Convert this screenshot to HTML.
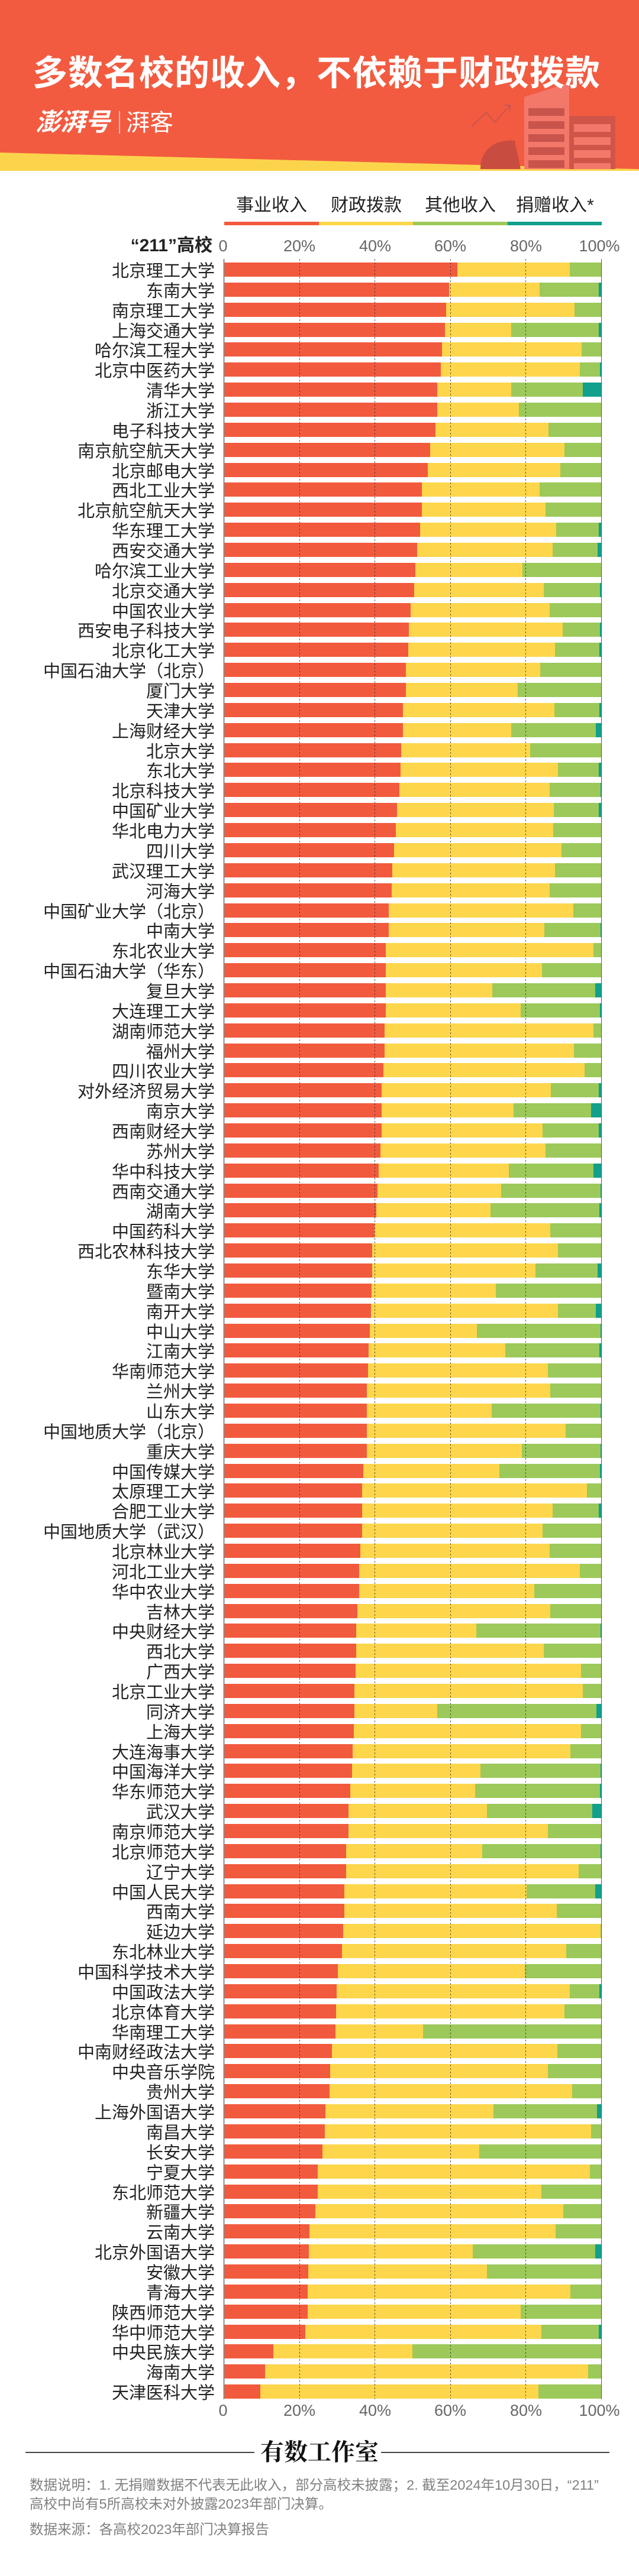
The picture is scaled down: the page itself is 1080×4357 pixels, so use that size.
<!DOCTYPE html>
<html><head><meta charset="utf-8">
<style>
*{margin:0;padding:0;box-sizing:border-box}
html,body{width:1080px;height:4357px;background:#fff;overflow:hidden}
body{position:relative;font-family:"Liberation Sans","Noto Sans CJK SC",sans-serif;color:#222}
.abs{position:absolute}
#title{left:55px;top:76px;font-size:59px;font-weight:bold;color:#fff;white-space:nowrap;letter-spacing:1px}
.lg{top:328px;font-size:30px;color:#222;width:160px;text-align:center;line-height:40px}
.lb{top:375px;height:6px}
.ax{font-size:27px;color:#666;width:80px;text-align:center;line-height:30px}
#names{left:0;top:444px;width:363px;text-align:right}
#names div{height:24px;margin-bottom:9.87px;line-height:24px;font-size:29px;white-space:nowrap;position:relative;top:3px}
#bars{left:379px;top:444px;width:637px}
#bars div{height:24px;margin-bottom:9.87px;background:#10a08b;display:flex}
#bars i{background:#f25a3e;display:block;height:24px}
#bars b{background:#fdd64b;display:block;height:24px}
#bars u{background:#9cc95a;display:block;height:24px}
.note{left:50px;font-size:23.5px;color:#808080;white-space:nowrap}
</style></head><body>
<svg class="abs" style="left:0;top:0" width="1080" height="290">
<rect x="0" y="0" width="1080" height="289" fill="#fcd44c"/>
<polygon points="0,0 1080,0 1080,286 0,258" fill="#f25b40"/>
<path d="M812,286 C812,250 840,235 870,238 L880,286 Z" fill="#c94c40"/>
<rect x="886" y="164" width="76" height="122" fill="#f4786a"/>
<polygon points="886,164 962,140 962,164" fill="#f4786a"/>
<rect x="893" y="183" width="61" height="13" fill="#c9544b"/>
<rect x="893" y="205" width="61" height="13" fill="#c9544b"/>
<rect x="893" y="227" width="61" height="13" fill="#c9544b"/>
<rect x="893" y="249" width="61" height="13" fill="#c9544b"/>
<rect x="893" y="271" width="61" height="13" fill="#c9544b"/>
<rect x="962" y="196" width="78" height="90" fill="#cf5549"/>
<rect x="970" y="210" width="62" height="13" fill="#f4786a"/>
<rect x="970" y="232" width="62" height="13" fill="#f4786a"/>
<rect x="970" y="254" width="62" height="13" fill="#f4786a"/>
<rect x="970" y="276" width="62" height="10" fill="#f4786a"/>
<polyline points="797,214 822,190 836,207 862,178" fill="none" stroke="#c9544b" stroke-width="2"/>
<polyline points="852,178 862,178 862,188" fill="none" stroke="#c9544b" stroke-width="2"/>
<line x1="202" y1="188" x2="202" y2="226" stroke="#fff" stroke-width="1.5" opacity="0.8"/>
</svg>
<div id="title" class="abs">多数名校的收入，不依赖于财政拨款</div>
<div class="abs" style="left:60px;top:182px;font-size:42px;line-height:50px;font-weight:bold;font-style:italic;color:#fff;white-space:nowrap">澎湃号</div>
<div class="abs" style="left:213px;top:184px;font-size:40px;line-height:48px;color:#fff;white-space:nowrap">湃客</div>

<div class="abs lg" style="left:379px">事业收入</div>
<div class="abs lg" style="left:539px">财政拨款</div>
<div class="abs lg" style="left:698px">其他收入</div>
<div class="abs lg" style="left:858px">捐赠收入*</div>
<div class="abs lb" style="left:379px;width:160px;background:#f25a3e"></div>
<div class="abs lb" style="left:539px;width:159px;background:#fdd64b"></div>
<div class="abs lb" style="left:698px;width:160px;background:#9cc95a"></div>
<div class="abs lb" style="left:858px;width:159px;background:#10a08b"></div>

<div class="abs" style="right:721px;top:398px;font-size:30px;font-weight:bold;line-height:36px;white-space:nowrap">“211”高校</div>
<div class="abs ax" style="left:337px;top:401px;">0</div>
<div class="abs ax" style="left:466px;top:401px;">20%</div>
<div class="abs ax" style="left:594px;top:401px;">40%</div>
<div class="abs ax" style="left:721px;top:401px;">60%</div>
<div class="abs ax" style="left:849px;top:401px;">80%</div>
<div class="abs ax" style="left:973px;top:401px;">100%</div>

<div id="names" class="abs">
<div>北京理工大学</div><div>东南大学</div><div>南京理工大学</div><div>上海交通大学</div><div>哈尔滨工程大学</div><div>北京中医药大学</div><div>清华大学</div><div>浙江大学</div><div>电子科技大学</div><div>南京航空航天大学</div>
<div>北京邮电大学</div><div>西北工业大学</div><div>北京航空航天大学</div><div>华东理工大学</div><div>西安交通大学</div><div>哈尔滨工业大学</div><div>北京交通大学</div><div>中国农业大学</div><div>西安电子科技大学</div><div>北京化工大学</div>
<div>中国石油大学（北京）</div><div>厦门大学</div><div>天津大学</div><div>上海财经大学</div><div>北京大学</div><div>东北大学</div><div>北京科技大学</div><div>中国矿业大学</div><div>华北电力大学</div><div>四川大学</div>
<div>武汉理工大学</div><div>河海大学</div><div>中国矿业大学（北京）</div><div>中南大学</div><div>东北农业大学</div><div>中国石油大学（华东）</div><div>复旦大学</div><div>大连理工大学</div><div>湖南师范大学</div><div>福州大学</div>
<div>四川农业大学</div><div>对外经济贸易大学</div><div>南京大学</div><div>西南财经大学</div><div>苏州大学</div><div>华中科技大学</div><div>西南交通大学</div><div>湖南大学</div><div>中国药科大学</div><div>西北农林科技大学</div>
<div>东华大学</div><div>暨南大学</div><div>南开大学</div><div>中山大学</div><div>江南大学</div><div>华南师范大学</div><div>兰州大学</div><div>山东大学</div><div>中国地质大学（北京）</div><div>重庆大学</div>
<div>中国传媒大学</div><div>太原理工大学</div><div>合肥工业大学</div><div>中国地质大学（武汉）</div><div>北京林业大学</div><div>河北工业大学</div><div>华中农业大学</div><div>吉林大学</div><div>中央财经大学</div><div>西北大学</div>
<div>广西大学</div><div>北京工业大学</div><div>同济大学</div><div>上海大学</div><div>大连海事大学</div><div>中国海洋大学</div><div>华东师范大学</div><div>武汉大学</div><div>南京师范大学</div><div>北京师范大学</div>
<div>辽宁大学</div><div>中国人民大学</div><div>西南大学</div><div>延边大学</div><div>东北林业大学</div><div>中国科学技术大学</div><div>中国政法大学</div><div>北京体育大学</div><div>华南理工大学</div><div>中南财经政法大学</div>
<div>中央音乐学院</div><div>贵州大学</div><div>上海外国语大学</div><div>南昌大学</div><div>长安大学</div><div>宁夏大学</div><div>东北师范大学</div><div>新疆大学</div><div>云南大学</div><div>北京外国语大学</div>
<div>安徽大学</div><div>青海大学</div><div>陕西师范大学</div><div>华中师范大学</div><div>中央民族大学</div><div>海南大学</div><div>天津医科大学</div>
</div>

<div id="bars" class="abs">
<div><i style="width:61.8%"></i><b style="width:29.9%"></b><u style="width:8.3%"></u></div>
<div><i style="width:59.7%"></i><b style="width:24.0%"></b><u style="width:15.7%"></u></div>
<div><i style="width:58.8%"></i><b style="width:34.1%"></b><u style="width:7.1%"></u></div>
<div><i style="width:58.6%"></i><b style="width:17.6%"></b><u style="width:23.1%"></u></div>
<div><i style="width:57.8%"></i><b style="width:37.1%"></b><u style="width:5.1%"></u></div>
<div><i style="width:57.4%"></i><b style="width:37.0%"></b><u style="width:5.3%"></u></div>
<div><i style="width:56.5%"></i><b style="width:19.6%"></b><u style="width:19.0%"></u></div>
<div><i style="width:56.5%"></i><b style="width:21.7%"></b><u style="width:21.8%"></u></div>
<div><i style="width:56.0%"></i><b style="width:30.1%"></b><u style="width:13.9%"></u></div>
<div><i style="width:54.6%"></i><b style="width:35.7%"></b><u style="width:9.7%"></u></div>
<div><i style="width:54.0%"></i><b style="width:35.2%"></b><u style="width:10.8%"></u></div>
<div><i style="width:52.5%"></i><b style="width:31.2%"></b><u style="width:16.3%"></u></div>
<div><i style="width:52.4%"></i><b style="width:32.9%"></b><u style="width:14.7%"></u></div>
<div><i style="width:52.0%"></i><b style="width:36.0%"></b><u style="width:11.4%"></u></div>
<div><i style="width:51.1%"></i><b style="width:36.0%"></b><u style="width:11.9%"></u></div>
<div><i style="width:50.7%"></i><b style="width:28.5%"></b><u style="width:20.8%"></u></div>
<div><i style="width:50.4%"></i><b style="width:34.4%"></b><u style="width:14.9%"></u></div>
<div><i style="width:49.4%"></i><b style="width:36.9%"></b><u style="width:13.7%"></u></div>
<div><i style="width:49.0%"></i><b style="width:40.8%"></b><u style="width:9.9%"></u></div>
<div><i style="width:48.8%"></i><b style="width:38.9%"></b><u style="width:11.8%"></u></div>
<div><i style="width:48.2%"></i><b style="width:35.7%"></b><u style="width:16.1%"></u></div>
<div><i style="width:48.2%"></i><b style="width:29.6%"></b><u style="width:22.2%"></u></div>
<div><i style="width:47.4%"></i><b style="width:40.2%"></b><u style="width:12.0%"></u></div>
<div><i style="width:47.4%"></i><b style="width:28.8%"></b><u style="width:22.4%"></u></div>
<div><i style="width:47.0%"></i><b style="width:34.1%"></b><u style="width:18.9%"></u></div>
<div><i style="width:46.8%"></i><b style="width:41.7%"></b><u style="width:10.8%"></u></div>
<div><i style="width:46.5%"></i><b style="width:39.9%"></b><u style="width:13.4%"></u></div>
<div><i style="width:45.9%"></i><b style="width:41.6%"></b><u style="width:11.9%"></u></div>
<div><i style="width:45.5%"></i><b style="width:41.8%"></b><u style="width:12.7%"></u></div>
<div><i style="width:45.0%"></i><b style="width:44.5%"></b><u style="width:10.5%"></u></div>
<div><i style="width:44.6%"></i><b style="width:43.1%"></b><u style="width:12.3%"></u></div>
<div><i style="width:44.4%"></i><b style="width:42.0%"></b><u style="width:13.6%"></u></div>
<div><i style="width:43.7%"></i><b style="width:49.0%"></b><u style="width:7.3%"></u></div>
<div><i style="width:43.7%"></i><b style="width:41.3%"></b><u style="width:14.8%"></u></div>
<div><i style="width:42.9%"></i><b style="width:55.1%"></b><u style="width:2.0%"></u></div>
<div><i style="width:42.9%"></i><b style="width:41.4%"></b><u style="width:15.7%"></u></div>
<div><i style="width:42.8%"></i><b style="width:28.3%"></b><u style="width:27.3%"></u></div>
<div><i style="width:42.8%"></i><b style="width:35.9%"></b><u style="width:21.0%"></u></div>
<div><i style="width:42.6%"></i><b style="width:55.3%"></b><u style="width:2.1%"></u></div>
<div><i style="width:42.6%"></i><b style="width:50.2%"></b><u style="width:7.2%"></u></div>
<div><i style="width:42.2%"></i><b style="width:53.4%"></b><u style="width:4.4%"></u></div>
<div><i style="width:41.8%"></i><b style="width:44.8%"></b><u style="width:12.8%"></u></div>
<div><i style="width:41.7%"></i><b style="width:35.0%"></b><u style="width:20.6%"></u></div>
<div><i style="width:41.7%"></i><b style="width:42.7%"></b><u style="width:15.0%"></u></div>
<div><i style="width:41.4%"></i><b style="width:43.8%"></b><u style="width:14.8%"></u></div>
<div><i style="width:40.9%"></i><b style="width:34.6%"></b><u style="width:22.5%"></u></div>
<div><i style="width:40.7%"></i><b style="width:32.8%"></b><u style="width:26.3%"></u></div>
<div><i style="width:40.3%"></i><b style="width:30.4%"></b><u style="width:28.9%"></u></div>
<div><i style="width:39.8%"></i><b style="width:46.7%"></b><u style="width:13.5%"></u></div>
<div><i style="width:39.3%"></i><b style="width:49.3%"></b><u style="width:11.4%"></u></div>
<div><i style="width:39.3%"></i><b style="width:43.3%"></b><u style="width:16.5%"></u></div>
<div><i style="width:39.1%"></i><b style="width:33.0%"></b><u style="width:27.9%"></u></div>
<div><i style="width:39.0%"></i><b style="width:49.6%"></b><u style="width:10.0%"></u></div>
<div><i style="width:38.6%"></i><b style="width:28.5%"></b><u style="width:32.7%"></u></div>
<div><i style="width:38.3%"></i><b style="width:36.2%"></b><u style="width:25.1%"></u></div>
<div><i style="width:38.2%"></i><b style="width:47.6%"></b><u style="width:14.2%"></u></div>
<div><i style="width:37.9%"></i><b style="width:48.6%"></b><u style="width:13.5%"></u></div>
<div><i style="width:37.9%"></i><b style="width:33.1%"></b><u style="width:28.8%"></u></div>
<div><i style="width:37.8%"></i><b style="width:52.8%"></b><u style="width:9.4%"></u></div>
<div><i style="width:37.8%"></i><b style="width:41.1%"></b><u style="width:20.9%"></u></div>
<div><i style="width:36.9%"></i><b style="width:36.1%"></b><u style="width:26.7%"></u></div>
<div><i style="width:36.5%"></i><b style="width:59.8%"></b><u style="width:3.7%"></u></div>
<div><i style="width:36.5%"></i><b style="width:50.6%"></b><u style="width:12.2%"></u></div>
<div><i style="width:36.5%"></i><b style="width:47.9%"></b><u style="width:15.6%"></u></div>
<div><i style="width:36.1%"></i><b style="width:50.2%"></b><u style="width:13.7%"></u></div>
<div><i style="width:35.8%"></i><b style="width:58.6%"></b><u style="width:5.6%"></u></div>
<div><i style="width:35.8%"></i><b style="width:46.4%"></b><u style="width:17.8%"></u></div>
<div><i style="width:35.4%"></i><b style="width:51.1%"></b><u style="width:13.5%"></u></div>
<div><i style="width:35.0%"></i><b style="width:31.9%"></b><u style="width:32.9%"></u></div>
<div><i style="width:35.0%"></i><b style="width:49.8%"></b><u style="width:15.2%"></u></div>
<div><i style="width:34.8%"></i><b style="width:59.8%"></b><u style="width:5.4%"></u></div>
<div><i style="width:34.6%"></i><b style="width:60.5%"></b><u style="width:4.9%"></u></div>
<div><i style="width:34.6%"></i><b style="width:21.9%"></b><u style="width:42.3%"></u></div>
<div><i style="width:34.4%"></i><b style="width:60.3%"></b><u style="width:5.3%"></u></div>
<div><i style="width:34.1%"></i><b style="width:57.7%"></b><u style="width:8.2%"></u></div>
<div><i style="width:33.9%"></i><b style="width:34.1%"></b><u style="width:31.8%"></u></div>
<div><i style="width:33.5%"></i><b style="width:33.0%"></b><u style="width:33.2%"></u></div>
<div><i style="width:33.0%"></i><b style="width:36.7%"></b><u style="width:27.9%"></u></div>
<div><i style="width:33.0%"></i><b style="width:52.9%"></b><u style="width:14.1%"></u></div>
<div><i style="width:32.4%"></i><b style="width:36.0%"></b><u style="width:31.4%"></u></div>
<div><i style="width:32.3%"></i><b style="width:61.7%"></b><u style="width:6.0%"></u></div>
<div><i style="width:31.8%"></i><b style="width:48.4%"></b><u style="width:18.2%"></u></div>
<div><i style="width:31.8%"></i><b style="width:56.5%"></b><u style="width:11.7%"></u></div>
<div><i style="width:31.6%"></i><b style="width:68.2%"></b><u style="width:0.2%"></u></div>
<div><i style="width:31.2%"></i><b style="width:59.6%"></b><u style="width:9.2%"></u></div>
<div><i style="width:30.1%"></i><b style="width:49.7%"></b><u style="width:20.2%"></u></div>
<div><i style="width:29.9%"></i><b style="width:61.8%"></b><u style="width:7.8%"></u></div>
<div><i style="width:29.7%"></i><b style="width:60.6%"></b><u style="width:9.7%"></u></div>
<div><i style="width:29.5%"></i><b style="width:23.2%"></b><u style="width:47.3%"></u></div>
<div><i style="width:28.6%"></i><b style="width:59.8%"></b><u style="width:11.6%"></u></div>
<div><i style="width:28.1%"></i><b style="width:57.8%"></b><u style="width:14.1%"></u></div>
<div><i style="width:27.9%"></i><b style="width:64.4%"></b><u style="width:7.7%"></u></div>
<div><i style="width:26.9%"></i><b style="width:44.5%"></b><u style="width:27.5%"></u></div>
<div><i style="width:26.7%"></i><b style="width:70.6%"></b><u style="width:2.7%"></u></div>
<div><i style="width:26.1%"></i><b style="width:41.5%"></b><u style="width:32.4%"></u></div>
<div><i style="width:24.8%"></i><b style="width:72.2%"></b><u style="width:3.0%"></u></div>
<div><i style="width:24.8%"></i><b style="width:59.3%"></b><u style="width:15.9%"></u></div>
<div><i style="width:24.1%"></i><b style="width:65.8%"></b><u style="width:10.1%"></u></div>
<div><i style="width:22.6%"></i><b style="width:65.3%"></b><u style="width:12.1%"></u></div>
<div><i style="width:22.4%"></i><b style="width:43.5%"></b><u style="width:32.6%"></u></div>
<div><i style="width:22.3%"></i><b style="width:47.4%"></b><u style="width:30.3%"></u></div>
<div><i style="width:22.2%"></i><b style="width:69.6%"></b><u style="width:8.2%"></u></div>
<div><i style="width:22.1%"></i><b style="width:56.5%"></b><u style="width:21.4%"></u></div>
<div><i style="width:21.5%"></i><b style="width:62.7%"></b><u style="width:15.1%"></u></div>
<div><i style="width:13.0%"></i><b style="width:36.9%"></b><u style="width:50.1%"></u></div>
<div><i style="width:10.8%"></i><b style="width:85.7%"></b><u style="width:3.5%"></u></div>
<div><i style="width:9.5%"></i><b style="width:73.8%"></b><u style="width:16.7%"></u></div>
</div>

<svg class="abs" style="left:0;top:0" width="1080" height="4357">
<line x1="378.5" y1="438" x2="378.5" y2="4058" stroke="#888" stroke-width="2"/>
<line x1="1016.5" y1="438" x2="1016.5" y2="4058" stroke="#555" stroke-width="1"/>
<g stroke="#333" stroke-width="1" stroke-dasharray="3,3" opacity="0.8">
<line x1="506.5" y1="438" x2="506.5" y2="4058"/>
<line x1="633.5" y1="438" x2="633.5" y2="4058"/>
<line x1="761.5" y1="438" x2="761.5" y2="4058"/>
<line x1="888.5" y1="438" x2="888.5" y2="4058"/>
</g>
<line x1="43" y1="4148" x2="430" y2="4148" stroke="#444" stroke-width="2"/>
<line x1="644" y1="4148" x2="1030" y2="4148" stroke="#444" stroke-width="2"/>
</svg>

<div class="abs ax" style="left:337px;top:4062px;">0</div>
<div class="abs ax" style="left:466px;top:4062px;">20%</div>
<div class="abs ax" style="left:594px;top:4062px;">40%</div>
<div class="abs ax" style="left:721px;top:4062px;">60%</div>
<div class="abs ax" style="left:849px;top:4062px;">80%</div>
<div class="abs ax" style="left:973px;top:4062px;">100%</div>

<div class="abs" style="left:436px;top:4124px;width:208px;text-align:center;font-family:'Liberation Serif','Noto Serif CJK SC',serif;font-weight:bold;font-size:40px;line-height:48px;color:#111">有数工作室</div>
<div class="abs note" style="top:4188px;line-height:30px">数据说明：1. 无捐赠数据不代表无此收入，部分高校未披露；2. 截至2024年10月30日，“211”</div>
<div class="abs note" style="top:4220px;line-height:30px">高校中尚有5所高校未对外披露2023年部门决算。</div>
<div class="abs note" style="top:4263px;line-height:30px">数据来源：各高校2023年部门决算报告</div>
</body></html>
